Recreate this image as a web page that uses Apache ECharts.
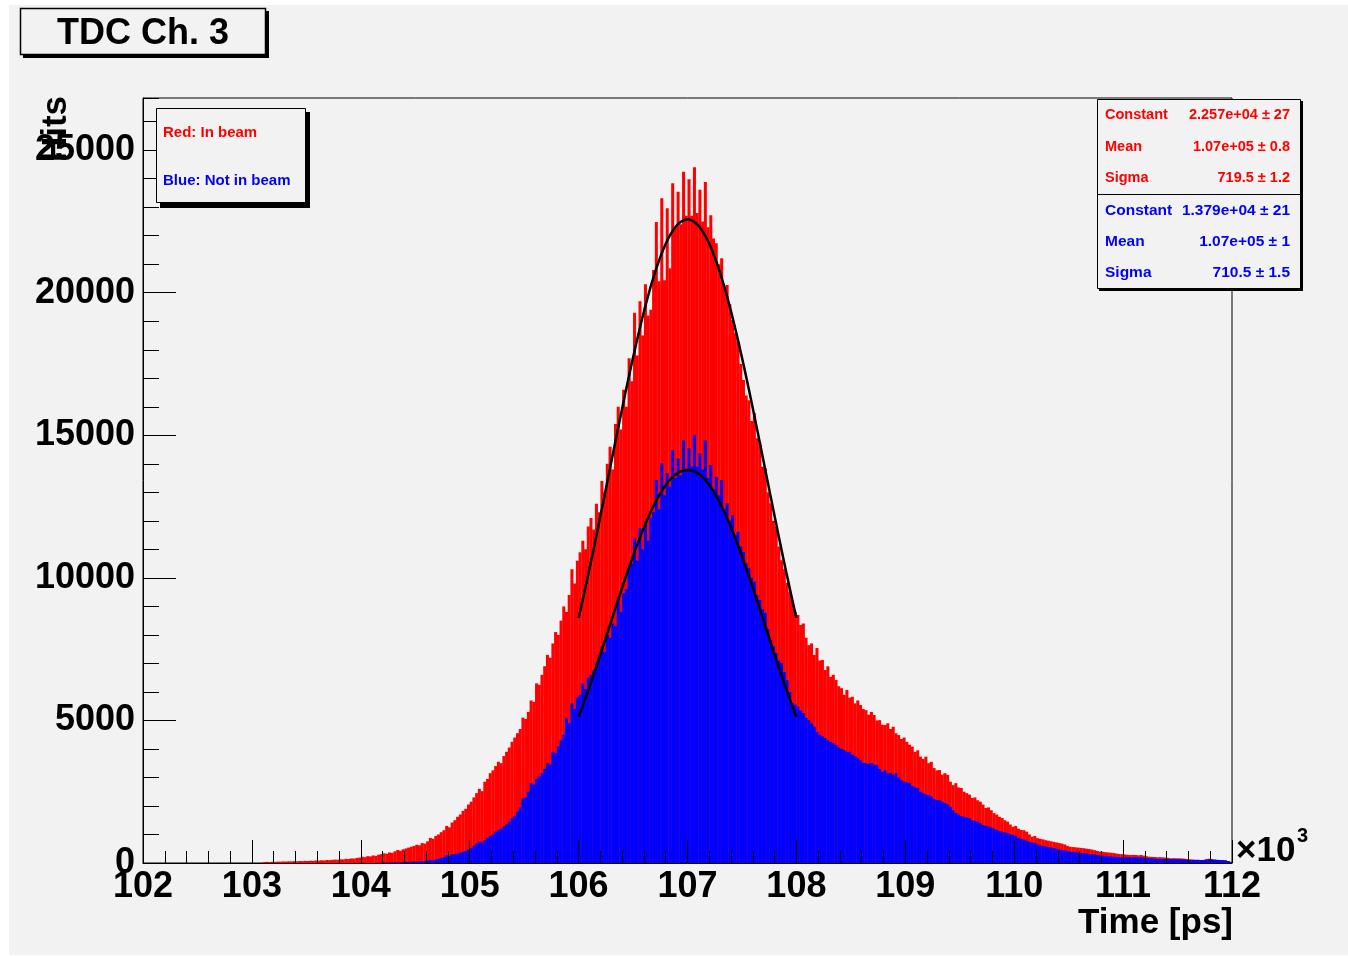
<!DOCTYPE html>
<html>
<head>
<meta charset="utf-8">
<title>TDC Ch. 3</title>
<script src="https://cdn.jsdelivr.net/npm/echarts@6/dist/echarts.min.js"></script>
<style>
  html, body { margin: 0; padding: 0; background: #ffffff; }
  #chart { width: 1348px; height: 956px; }
</style>
</head>
<body>
<div id="chart"></div>
<script>
// histogram binning: 400 bins of 25 ps from 102000 ps
const binStart = 102000;
const binWidth = 25;

// Red: in beam (counts per bin)
const redCounts = [
  0, 0, 0, 0, 0, 0, 0, 0, 0, 0,
  0, 0, 0, 0, 0, 0, 0, 0, 0, 0,
  0, 0, 0, 0, 0, 0, 0, 0, 0, 0,
  0, 0, 0, 0, 0, 0, 0, 0, 0, 0,
  0, 0, 0, 0, 35, 40, 30, 45, 40, 50,
  45, 55, 50, 60, 55, 65, 60, 70, 65, 75,
  70, 80, 75, 90, 85, 95, 90, 105, 100, 110,
  120, 115, 130, 125, 145, 140, 160, 155, 180, 190,
  220, 205, 240, 230, 265, 250, 290, 310, 340, 325,
  370, 355, 410, 455, 430, 480, 510, 540, 570, 600,
  640, 620, 700, 680, 760, 880, 850, 950, 1000, 1080,
  1150, 1300, 1250, 1420, 1500, 1620, 1700, 1830, 1900, 2050,
  2150, 2300, 2450, 2600, 2520, 2850, 2950, 3150, 3250, 3400,
  3550, 3500, 3750, 3900, 4050, 4250, 4400, 4550, 4700, 5100,
  5050, 5300, 5700, 5650, 6300, 6250, 6600, 6900, 7300, 7200,
  7700, 8100, 8000, 8500, 9000, 8800, 9400, 10300, 9800, 10600,
  10900, 11300, 11000, 11800, 12100, 11700, 12600, 12300, 13400, 13000,
  14000, 14600, 13800, 15400, 16000, 15200, 16600, 16000, 17700, 16900,
  19300, 17800, 19700, 18500, 20300, 19200, 19400, 20800, 22480, 20400,
  23310, 20440, 22960, 20860, 23840, 22300, 23540, 22400, 24240, 22700,
  23980, 22700, 24400, 22800, 23610, 22500, 23880, 22300, 22720, 21900,
  21740, 21000, 21210, 20200, 20270, 19600, 19040, 18600, 18280, 17500,
  16940, 16400, 16230, 15500, 15780, 14900, 14730, 13900, 13850, 13000,
  12620, 12000, 11790, 11100, 10620, 10300, 9820, 9500, 9200, 8810,
  8700, 8350, 8400, 7900, 7640, 7700, 7300, 7540, 7100, 7120,
  6770, 6900, 6530, 6600, 6420, 6200, 6130, 5900, 6070, 5800,
  5830, 5600, 5700, 5540, 5400, 5360, 5200, 5300, 5190, 5000,
  5010, 4850, 4840, 4900, 4700, 4780, 4550, 4490, 4350, 4400,
  4250, 4150, 4080, 3900, 3950, 3730, 3650, 3730, 3500, 3550,
  3330, 3250, 3260, 3100, 3150, 3090, 2850, 2730, 2800, 2650,
  2630, 2500, 2450, 2400, 2280, 2300, 2200, 2150, 2050, 1930,
  1950, 1850, 1750, 1700, 1620, 1580, 1500, 1450, 1350, 1270,
  1300, 1200, 1160, 1150, 1100, 1000, 920, 950, 870, 850,
  830, 800, 780, 760, 740, 720, 700, 680, 650, 600,
  570, 560, 550, 540, 530, 520, 500, 490, 470, 450,
  420, 400, 390, 380, 370, 360, 350, 330, 315, 310,
  300, 290, 280, 285, 280, 270, 280, 260, 240, 220,
  215, 210, 200, 205, 200, 190, 180, 165, 170, 165,
  165, 160, 150, 140, 130, 125, 115, 110, 105, 110,
  130, 150, 140, 120, 110, 105, 100, 90, 70, 40
];

// Blue: not in beam (counts per bin)
const blueCounts = [
  0, 0, 0, 0, 0, 0, 0, 0, 0, 0,
  0, 0, 0, 0, 0, 0, 0, 0, 0, 0,
  0, 0, 0, 0, 0, 0, 0, 0, 0, 0,
  0, 0, 0, 0, 0, 0, 0, 0, 0, 0,
  0, 0, 0, 0, 0, 0, 0, 0, 0, 0,
  0, 0, 0, 0, 0, 0, 0, 0, 0, 0,
  0, 0, 0, 0, 0, 0, 0, 0, 0, 0,
  0, 0, 0, 0, 0, 0, 0, 0, 0, 0,
  0, 0, 0, 0, 0, 0, 10, 0, 15, 10,
  20, 15, 25, 30, 25, 35, 40, 35, 45, 50,
  55, 60, 70, 65, 80, 100, 90, 120, 140, 170,
  200, 280, 250, 300, 320, 340, 360, 400, 420, 470,
  520, 600, 680, 750, 720, 800, 880, 950, 1000, 1100,
  1150, 1200, 1280, 1350, 1450, 1570, 1650, 1800, 1950, 2270,
  2300, 2500, 2800, 2750, 2950, 3030, 3150, 3300, 3500, 3450,
  3900, 3850, 4100, 4300, 4500, 5080, 4900, 5600, 5400, 5800,
  5900, 6300, 6100, 6500, 6600, 6770, 7000, 7300, 7600, 7400,
  8000, 7900, 8400, 8300, 9340, 8800, 9460, 9600, 10300, 10500,
  11390, 10600, 11750, 11000, 11970, 11300, 12090, 12300, 13430, 12400,
  14020, 12900, 13670, 13200, 14480, 13500, 14190, 13600, 14830, 13800,
  14550, 13900, 15010, 13900, 14370, 13800, 14830, 13500, 13960, 13100,
  13550, 12900, 13430, 12400, 12620, 12000, 12200, 11500, 11620, 11100,
  10910, 10500, 10340, 10000, 9860, 9400, 9220, 8900, 8770, 8200,
  7820, 7600, 7360, 7100, 7010, 6700, 6420, 6000, 5610, 5550,
  5480, 5350, 5260, 5100, 5010, 4900, 4780, 4600, 4500, 4450,
  4380, 4300, 4250, 4200, 4140, 4050, 4000, 3960, 3900, 3900,
  3800, 3750, 3680, 3600, 3510, 3500, 3480, 3510, 3450, 3440,
  3300, 3200, 3250, 3150, 3150, 3100, 3150, 3000, 2900, 2850,
  2830, 2800, 2700, 2650, 2630, 2500, 2450, 2400, 2380, 2330,
  2250, 2210, 2200, 2150, 2100, 2050, 1970, 1850, 1750, 1700,
  1650, 1620, 1600, 1580, 1500, 1480, 1450, 1400, 1330, 1300,
  1280, 1250, 1200, 1160, 1120, 1100, 1080, 1050, 1000, 990,
  950, 880, 850, 820, 780, 740, 720, 700, 650, 620,
  600, 580, 560, 550, 520, 500, 470, 455, 440, 420,
  400, 390, 380, 370, 360, 350, 340, 320, 315, 300,
  280, 260, 255, 250, 240, 230, 220, 215, 210, 200,
  200, 205, 200, 195, 200, 190, 200, 185, 170, 165,
  160, 150, 145, 140, 140, 135, 140, 140, 135, 130,
  130, 125, 120, 110, 105, 100, 105, 110, 105, 100,
  120, 130, 125, 115, 110, 105, 100, 90, 70, 40
];

// gaussian fit results (from the stats box), fitted over 106000..108000 ps
const redFit = { constant: 22570, mean: 107000, sigma: 719.5 };
const blueFit = { constant: 13790, mean: 107000, sigma: 710.5 };
const fitRange = [106000, 108000];

const redStats = [
  ["Constant", "2.257e+04 \u00b1 27"],
  ["Mean", "1.07e+05 \u00b1 0.8"],
  ["Sigma", "719.5 \u00b1 1.2"]
];
const blueStats = [
  ["Constant", "1.379e+04 \u00b1 21"],
  ["Mean", "1.07e+05 \u00b1 1"],
  ["Sigma", "710.5 \u00b1 1.5"]
];

const FONT = "'Liberation Sans', Arial, Helvetica, sans-serif";
const BG = "#f2f2f2";

function toBins(counts) {
  return counts.map((v, i) => [binStart + i * binWidth, v]);
}

function fitCurve(p) {
  let pts = [];
  for (let x = fitRange[0]; x <= fitRange[1]; x += 10) {
    let d = (x - p.mean) / p.sigma;
    pts.push([x, p.constant * Math.exp(-0.5 * d * d)]);
  }
  return pts;
}

function histItem(color) {
  return function (params, api) {
    let x0 = api.value(0);
    let v = api.value(1);
    if (!v) return;
    let a = api.coord([x0, 0]);
    let b = api.coord([x0 + binWidth, v]);
    return {
      type: "rect",
      shape: { x: a[0], y: b[1], width: b[0] - a[0] + 0.3, height: a[1] - b[1] },
      style: { fill: color }
    };
  };
}

let myChart = echarts.init(document.getElementById("chart"), null, { renderer: "canvas" });

let statsTexts = [];
redStats.forEach((r, k) => {
  statsTexts.push({ type: "text", x: 1105, y: 115 + k * 31.5, z: 102,
    style: { text: r[0], fill: "#ff0000", font: "bold 14.5px " + FONT, verticalAlign: "middle" } });
  statsTexts.push({ type: "text", x: 1290, y: 115 + k * 31.5, z: 102,
    style: { text: r[1], fill: "#ff0000", font: "bold 14.5px " + FONT, align: "right", verticalAlign: "middle" } });
});
blueStats.forEach((r, k) => {
  statsTexts.push({ type: "text", x: 1105, y: 211 + k * 31, z: 102,
    style: { text: r[0], fill: "#0000ff", font: "bold 15.5px " + FONT, verticalAlign: "middle" } });
  statsTexts.push({ type: "text", x: 1290, y: 211 + k * 31, z: 102,
    style: { text: r[1], fill: "#0000ff", font: "bold 15.5px " + FONT, align: "right", verticalAlign: "middle" } });
});

let option = {
  backgroundColor: "#ffffff",
  animation: false,
  grid: {
    left: 143, right: 116, top: 98, bottom: 93,
    show: true, borderColor: "#000", borderWidth: 1, backgroundColor: "transparent"
  },
  xAxis: {
    type: "value",
    min: 102000, max: 112000, interval: 1000,
    z: 10,
    axisLine: { lineStyle: { color: "#000", width: 1 } },
    axisTick: { inside: true, length: 23, lineStyle: { color: "#000", width: 1 } },
    minorTick: { show: true, splitNumber: 5, length: 12, lineStyle: { color: "#000", width: 1 } },
    splitLine: { show: false },
    axisLabel: {
      formatter: v => String(v / 1000),
      color: "#000", fontSize: 36, fontWeight: "bold", fontFamily: FONT, margin: 6,
      showMinLabel: true, showMaxLabel: true
    }
  },
  yAxis: [
    {
      type: "value",
      min: 0, max: 26830, interval: 5000,
      z: 10,
      axisLine: { show: true, lineStyle: { color: "#000", width: 1 } },
      axisTick: { inside: true, length: 33, lineStyle: { color: "#000", width: 1 } },
      splitLine: { show: false },
      axisLabel: {
        formatter: v => String(v),
        color: "#000", fontSize: 36, fontWeight: "bold", fontFamily: FONT, margin: 8,
        showMaxLabel: false
      }
    },
    {
      type: "value",
      position: "left",
      min: 0, max: 26830, interval: 1000,
      z: 10,
      axisLine: { show: false },
      axisTick: { inside: true, length: 16, lineStyle: { color: "#000", width: 1 } },
      splitLine: { show: false },
      axisLabel: { show: false }
    }
  ],
  series: [
    {
      name: "Red: In beam",
      type: "custom",
      renderItem: histItem("#ff0000"),
      encode: { x: 0, y: 1 },
      data: toBins(redCounts),
      z: 2
    },
    {
      name: "Blue: Not in beam",
      type: "custom",
      renderItem: histItem("#0000ff"),
      encode: { x: 0, y: 1 },
      data: toBins(blueCounts),
      z: 3
    },
    {
      type: "line",
      data: fitCurve(redFit),
      showSymbol: false,
      lineStyle: { color: "#000", width: 2.5 },
      z: 5
    },
    {
      type: "line",
      data: fitCurve(blueFit),
      showSymbol: false,
      lineStyle: { color: "#000", width: 2.5 },
      z: 5
    }
  ],
  graphic: [
    // canvas background
    { type: "rect", z: -10, silent: true, shape: { x: 9, y: 5, width: 1339, height: 950 }, style: { fill: BG } },
    // title box
    { type: "rect", z: 100, shape: { x: 23, y: 11, width: 246, height: 47 }, style: { fill: "#000" } },
    { type: "rect", z: 101, shape: { x: 20.5, y: 8.5, width: 245, height: 46 }, style: { fill: BG, stroke: "#000", lineWidth: 1.5 } },
    { type: "text", z: 102, x: 143, y: 34,
      style: { text: "TDC Ch. 3", fill: "#000", font: "bold 36px " + FONT, align: "center", verticalAlign: "middle" } },
    // legend box
    { type: "rect", z: 100, shape: { x: 160, y: 112, width: 150, height: 96 }, style: { fill: "#000" } },
    { type: "rect", z: 101, shape: { x: 156.5, y: 108.5, width: 149, height: 94 }, style: { fill: BG, stroke: "#000", lineWidth: 1 } },
    { type: "text", z: 102, x: 163, y: 133,
      style: { text: "Red: In beam", fill: "#ff0000", font: "bold 15px " + FONT, verticalAlign: "middle" } },
    { type: "text", z: 102, x: 163, y: 181,
      style: { text: "Blue: Not in beam", fill: "#0000ff", font: "bold 15px " + FONT, verticalAlign: "middle" } },
    // stats box
    { type: "rect", z: 100, shape: { x: 1099, y: 101, width: 204, height: 190 }, style: { fill: "#000" } },
    { type: "rect", z: 101, shape: { x: 1097.5, y: 99.5, width: 203, height: 189 }, style: { fill: BG, stroke: "#000", lineWidth: 1 } },
    { type: "line", z: 102, shape: { x1: 1097.5, y1: 194.5, x2: 1300.5, y2: 194.5 }, style: { stroke: "#000", lineWidth: 1 } },
    ...statsTexts,
    // axis titles
    { type: "text", z: 50, x: 56, y: 96, rotation: Math.PI / 2,
      style: { text: "Hits", fill: "#000", font: "bold 35px " + FONT, align: "right", verticalAlign: "middle" } },
    { type: "text", z: 50, x: 1233, y: 923,
      style: { text: "Time [ps]", fill: "#000", font: "bold 35px " + FONT, align: "right", verticalAlign: "middle" } },
    { type: "text", z: 50, x: 1236, y: 851,
      style: { text: "\u00d710", fill: "#000", font: "bold 35px " + FONT, verticalAlign: "middle" } },
    { type: "text", z: 50, x: 1297, y: 836,
      style: { text: "3", fill: "#000", font: "bold 20px " + FONT, verticalAlign: "middle" } }
  ]
};

if (option && typeof option === "object") {
  myChart.setOption(option);
}

window.addEventListener("resize", myChart.resize);
</script>
</body>
</html>
